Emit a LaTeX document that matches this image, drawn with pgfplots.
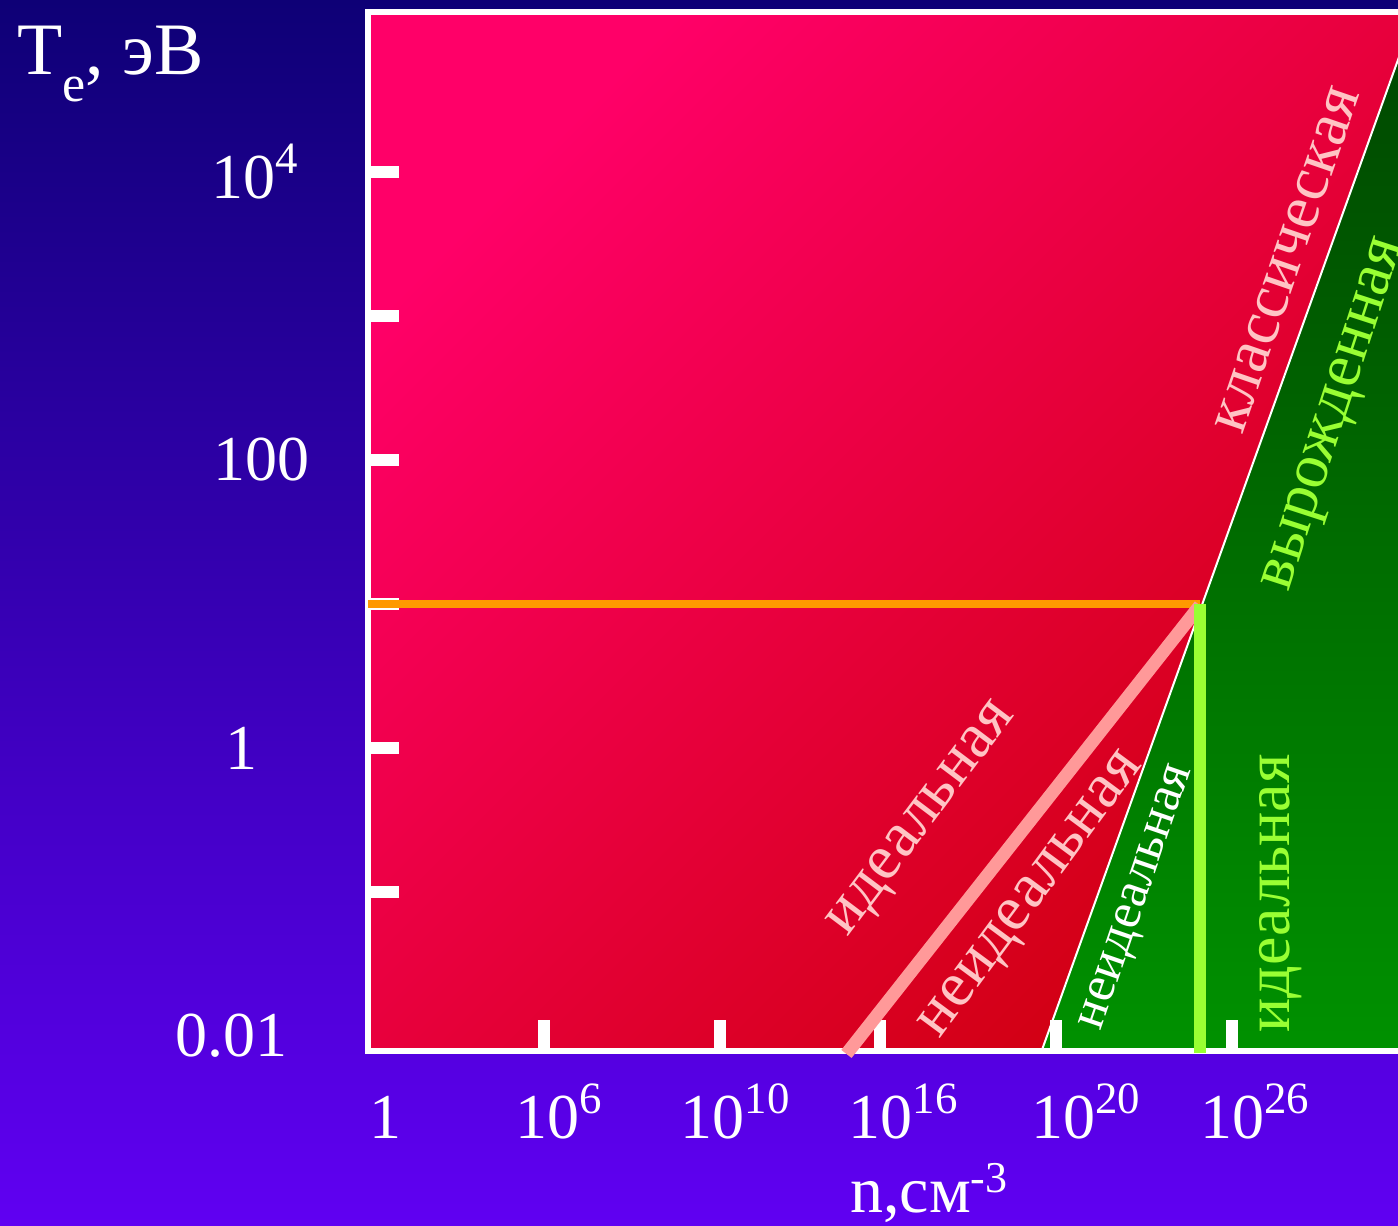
\documentclass[border=0pt]{standalone}
\usepackage{fontspec}
\setmainfont{Liberation Serif}
\usepackage{pgfplots}
\pgfplotsset{compat=1.18}
\definecolor{bgtop}{RGB}{14,0,118}
\definecolor{bgbot}{RGB}{96,0,242}
\definecolor{redtl}{RGB}{255,0,104}
\definecolor{redbr}{RGB}{208,0,16}
\definecolor{grntop}{RGB}{0,70,0}
\definecolor{grnbot}{RGB}{0,145,0}
\definecolor{pinkline}{RGB}{255,153,153}
\definecolor{pinktext}{RGB}{255,196,196}
\definecolor{orangeline}{RGB}{255,153,0}
\definecolor{limeline}{RGB}{153,255,51}
\newcommand{\sps}[1]{\raisebox{12.5pt}{\fontsize{22.4}{24}\selectfont #1}}
\begin{document}
\begin{tikzpicture}[font=\fontsize{32}{38}\selectfont]
\useasboundingbox (0,0) rectangle (699pt,613pt);
\clip (0,0) rectangle (699pt,613pt);
\shade[top color=bgtop, bottom color=bgbot] (0,0) rectangle (699pt,613pt);
\pgfplotsset{common/.style={
  scale only axis, at={(184pt,87.25pt)}, anchor=south west,
  width=526pt, height=519.75pt,
  xmin=0, xmax=30.057, ymin=-2.108, ymax=5.111,
  clip=false}}
\begin{axis}[common, axis on top,
  axis line style={white, line width=3pt},
  tick align=inside, xtick pos=bottom, ytick pos=left,
  xtick={0.51,5.46,10.49,15.29,20.51,25.34},
  xticklabels={1,10\sps{6},10\sps{10},10\sps{16},10\sps{20},10\sps{26}},
  ytick={-2,0,2,4},
  yticklabels={0.01\kern15pt,1\kern6pt,\kern14pt100,\kern8pt10\sps{4}},
  major tick length=0pt,
  tick style={draw=none},
  extra x ticks={5.03,10.06,14.63,19.66,24.69},
  extra x tick labels={,,,,},
  extra y ticks={-1,0,1,2,3,4},
  extra y tick labels={,,,,,},
  extra tick style={major tick length=15.5pt, tick style={draw=white, line width=6pt}},
  tick label style={font=\fontsize{32}{38}\selectfont, text=white},
  xticklabel style={anchor=base, yshift=-43.75pt},
  yticklabel style={anchor=center, xshift=-60.5pt},
]
% classical plasma region (red)
\addplot[draw=none, top color=redtl, bottom color=redbr, shading angle=45]
  coordinates {(0,-2.108) (0,5.111) (29.92,5.111) (19.24,-2.108)} -- cycle;
% degenerate plasma region (green)
\addplot[draw=none, top color=grntop, bottom color=grnbot]
  coordinates {(19.24,-2.108) (29.92,5.111) (30.2,5.111) (30.2,-2.108)} -- cycle;
\end{axis}
\begin{axis}[common, hide axis]
\addplot[white, line width=1pt] coordinates {(19.24,-2.108) (29.92,5.111)};
\addplot[orangeline, line width=4pt] coordinates {(0,1) (23.77,1)};
\addplot[pinkline, line width=6.5pt] coordinates {(13.67,-2.125) (23.77,0.99)};
\addplot[limeline, line width=6pt] coordinates {(23.77,-2.12) (23.77,1)};
\node[text=pinktext, rotate=53, font=\fontsize{32}{38}\selectfont] at (axis cs:15.89,-0.507) {идеальная};
\node[text=pinktext, rotate=53.5, font=\fontsize{32}{38}\selectfont] at (axis cs:19.03,-1.035) {неидеальная};
\node[text=white, rotate=71, font=\fontsize{26}{30}\selectfont] at (axis cs:22.03,-1.042) {неидеальная};
\node[text=limeline, rotate=90, font=\fontsize{32}{38}\selectfont] at (axis cs:26.06,-1.01) {идеальная};
\node[text=pinktext, rotate=71, font=\fontsize{32}{38}\selectfont] at (axis cs:26.26,3.389) {классическая};
\node[text=limeline, rotate=72, font=\fontsize{32}{38}\selectfont] at (axis cs:27.71,2.31) {вырожденная};
\end{axis}
\node[anchor=base west, inner sep=0pt, text=white, font=\fontsize{37}{42}\selectfont]
  at (8.5pt,575.5pt) {T\raisebox{-13.5pt}{\fontsize{26}{28}\selectfont e}, эВ};
\node[anchor=base west, inner sep=0pt, text=white, font=\fontsize{33}{40}\selectfont]
  at (425pt,6.5pt) {n,см\raisebox{10pt}{\fontsize{22}{26}\selectfont -3}};
\end{tikzpicture}
\end{document}
